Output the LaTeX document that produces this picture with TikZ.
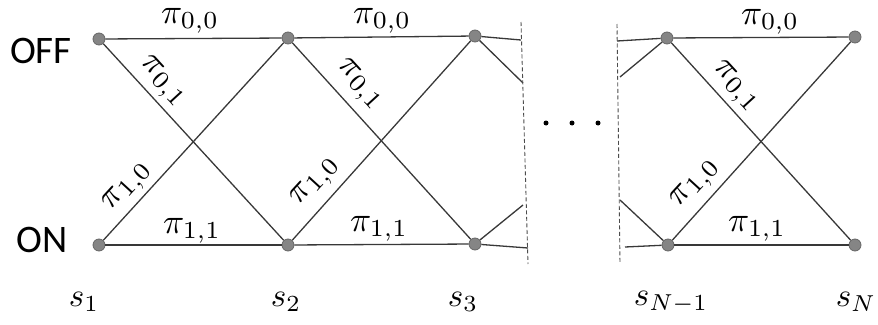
\documentclass[tikz,border=0pt]{standalone}
\usepackage{fontspec}
\newfontfamily\lblfont{Carlito}
\begin{document}
\begin{tikzpicture}[x=1pt,y=-1pt,
  st/.style={circle,draw=black!60,fill=black!48,line width=0.8pt,minimum size=12pt,inner sep=0pt},
  conn/.style={draw=black!78,line width=1.3pt},
  cut/.style={draw=black!70,line width=0.9pt,dash pattern=on 4pt off 2.5pt},
  prob/.style={inner sep=0pt,scale=3.5},
  slab/.style={inner sep=0pt,scale=3.3},
  rowlab/.style={inner sep=0pt,font=\lblfont\fontsize{39}{42}\selectfont}]
\useasboundingbox (0,0) rectangle (878,324);
% states
\node[st] (t1) at (99,39) {};
\node[st] (b1) at (99,245) {};
\node[st] (t2) at (288,38) {};
\node[st] (b2) at (288,245) {};
\node[st] (t3) at (475,36) {};
\node[st] (b3) at (475,244) {};
\node[st] (t4) at (667,38) {};
\node[st] (b4) at (668,245) {};
\node[st] (t5) at (855,37) {};
\node[st] (b5) at (855,245) {};
% cut ends
\coordinate (e1) at (521,40);
\coordinate (e2) at (523,83);
\coordinate (e3) at (523,205);
\coordinate (e4) at (528,248);
\coordinate (f1) at (617,41);
\coordinate (f2) at (620,77);
\coordinate (f3) at (620,200);
\coordinate (f4) at (625,247);
\coordinate (d1a) at (521,22);
\coordinate (d1b) at (528,264);
\coordinate (d2a) at (617,24);
\coordinate (d2b) at (620,264);
% connectors
\draw[conn] (t1) -- (t2);
\draw[conn] (t1) -- (b2);
\draw[conn] (b1) -- (t2);
\draw[conn] (b1) -- (b2);
\draw[conn] (t2) -- (t3);
\draw[conn] (t2) -- (b3);
\draw[conn] (b2) -- (t3);
\draw[conn] (b2) -- (b3);
\draw[conn] (t3) -- (e1);
\draw[conn] (t3) -- (e2);
\draw[conn] (b3) -- (e3);
\draw[conn] (b3) -- (e4);
\draw[conn] (f1) -- (t4);
\draw[conn] (f2) -- (t4);
\draw[conn] (f3) -- (b4);
\draw[conn] (f4) -- (b4);
\draw[conn] (t4) -- (t5);
\draw[conn] (t4) -- (b5);
\draw[conn] (b4) -- (t5);
\draw[conn] (b4) -- (b5);
\draw[cut] (d1a) -- (d1b);
\draw[cut] (d2a) -- (d2b);
% dots
\node[circle,fill=black,inner sep=0pt,minimum size=5pt] (dot1) at (546,123) {};
\node[circle,fill=black,inner sep=0pt,minimum size=5pt] (dot2) at (572,123) {};
\node[circle,fill=black,inner sep=0pt,minimum size=5pt] (dot3) at (598,123) {};
% row labels
\node[rowlab] (off) at (41,51) {OFF};
\node[rowlab] (on) at (42,240) {ON};
% probabilities
\node[prob] (p00a) at (190,21) {$\pi_{0,0}$};
\node[prob] (p00b) at (382,21) {$\pi_{0,0}$};
\node[prob] (p00c) at (770,22) {$\pi_{0,0}$};
\node[prob] (p11a) at (192,231) {$\pi_{1,1}$};
\node[prob] (p11b) at (379,229) {$\pi_{1,1}$};
\node[prob] (p11c) at (757,229) {$\pi_{1,1}$};
\node[prob,rotate=-47.5] (p01a) at (162,82) {$\pi_{0,1}$};
\node[prob,rotate=-47.5] (p01b) at (359,85) {$\pi_{0,1}$};
\node[prob,rotate=-47.5] (p01c) at (735,87) {$\pi_{0,1}$};
\node[prob,rotate=47.5] (p10a) at (128,187) {$\pi_{1,0}$};
\node[prob,rotate=47.5] (p10b) at (316,182) {$\pi_{1,0}$};
\node[prob,rotate=47.5] (p10c) at (696,184) {$\pi_{1,0}$};
% stage labels
\node[slab] (s1) at (84,302) {$s_1$};
\node[slab] (s2) at (286,302) {$s_2$};
\node[slab] (s3) at (463,302) {$s_3$};
\node[slab] (s4) at (671,302) {$s_{N-1}$};
\node[slab] (s5) at (856,302) {$s_N$};
\end{tikzpicture}
\end{document}
